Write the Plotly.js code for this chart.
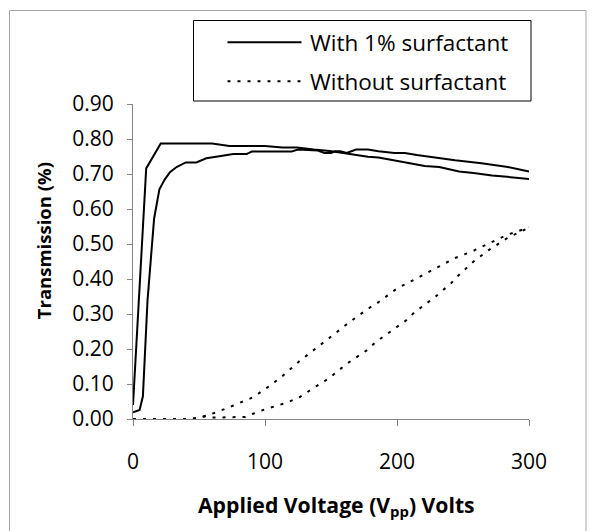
<!DOCTYPE html>
<html>
<head>
<meta charset="utf-8">
<script src="https://cdn.plot.ly/plotly-3.0.1.min.js"></script>
<style>html,body{margin:0;padding:0;background:#fff;}#chart{width:595px;height:531px;}</style>
</head>
<body>
<div id="chart"></div>
<script>
// With 1% surfactant - sweep A (higher at low voltage)
var surfA_x = [0, 10, 21, 40, 60, 73, 100, 113, 124, 137, 149, 163, 178, 186, 198, 209, 221, 232, 247, 258, 272, 300];
var surfA_y = [0.040, 0.716, 0.787, 0.787, 0.787, 0.780, 0.780, 0.776, 0.776, 0.770, 0.766, 0.758, 0.749, 0.747, 0.739, 0.731, 0.723, 0.720, 0.707, 0.703, 0.696, 0.686];
// With 1% surfactant - sweep B
var surfB_x = [0, 5, 7.5, 11, 16, 20, 24, 28, 33, 40, 48, 55.5, 63, 76, 86, 90, 100, 120, 125, 140, 145, 150, 153, 157, 162, 169, 178, 186, 198, 206, 215, 229, 244, 264, 284, 300];
var surfB_y = [0.019, 0.026, 0.065, 0.339, 0.573, 0.656, 0.684, 0.705, 0.720, 0.733, 0.733, 0.745, 0.749, 0.757, 0.757, 0.764, 0.764, 0.764, 0.770, 0.767, 0.760, 0.760, 0.765, 0.765, 0.760, 0.770, 0.770, 0.765, 0.760, 0.760, 0.754, 0.746, 0.739, 0.731, 0.720, 0.707];
// Without surfactant - sweep C (rises earlier)
var noneC_x = [0, 40, 50, 56, 63, 73, 91, 104, 113, 126, 141, 155, 163, 178, 185, 200, 215, 229, 244, 257, 270, 284, 300];
var noneC_y = [0, 0, 0.003, 0.010, 0.019, 0.034, 0.062, 0.096, 0.122, 0.165, 0.208, 0.250, 0.274, 0.315, 0.331, 0.373, 0.402, 0.431, 0.460, 0.479, 0.503, 0.527, 0.547];
// Without surfactant - sweep D
var noneD_x = [0, 45, 50, 55, 60, 75, 85, 91, 101, 116, 126, 139, 148, 162, 177, 184, 192, 207, 213, 222, 229, 241, 247, 258, 270, 284, 300];
var noneD_y = [0, 0, 0.005, 0.008, 0.004, 0.006, 0.006, 0.015, 0.029, 0.046, 0.062, 0.094, 0.115, 0.158, 0.196, 0.220, 0.241, 0.282, 0.304, 0.328, 0.349, 0.388, 0.412, 0.450, 0.484, 0.518, 0.547];

var xTicks = [0, 100, 200, 300];
var yTicks = [0, 0.1, 0.2, 0.3, 0.4, 0.5, 0.6, 0.7, 0.8, 0.9];
var legendLabels = ['With 1% surfactant', 'Without surfactant'];
var xTitle = 'Applied Voltage (V<sub>pp</sub>) Volts';
var yTitle = 'Transmission (%)';

var solid = {color: '#000', width: 2};
var dotted = {color: '#000', width: 2, dash: '3px,7px'};

var traces = [
  {x: surfA_x, y: surfA_y, mode: 'lines', line: solid, name: legendLabels[0], showlegend: false},
  {x: surfB_x, y: surfB_y, mode: 'lines', line: solid, name: legendLabels[0], showlegend: false},
  {x: noneC_x, y: noneC_y, mode: 'lines', line: dotted, name: legendLabels[1], showlegend: false},
  {x: noneD_x, y: noneD_y, mode: 'lines', line: dotted, name: legendLabels[1], showlegend: false}
];

// layout geometry (pixels)
var W = 595, H = 531, L = 133, R = 66, T = 104, B = 112;
var pw = W - L - R, ph = H - T - B;
function px(x) { return (x - L) / pw; }
function py(y) { return (H - B - y) / ph; }

var layout = {
  width: W, height: H,
  margin: {l: L, r: R, t: T, b: B, pad: 0},
  paper_bgcolor: '#fff', plot_bgcolor: '#fff',
  font: {family: '"Open Sans", Lato, sans-serif', size: 21, color: '#000'},
  showlegend: false,
  xaxis: {
    range: [0, 300], tickvals: xTicks, ticktext: xTicks.map(String),
    showline: true, linecolor: '#868686', linewidth: 1,
    ticks: 'outside', ticklen: 6, tickcolor: '#868686', tickwidth: 1,
    showgrid: false, zeroline: false, ticklabelstandoff: 18,
    tickfont: {size: 21}
  },
  yaxis: {
    range: [0, 0.9], tickvals: yTicks, ticktext: yTicks.map(function (v) { return v.toFixed(2); }),
    showline: true, linecolor: '#868686', linewidth: 1,
    ticks: 'outside', ticklen: 5, tickcolor: '#868686', tickwidth: 1,
    showgrid: false, zeroline: false, ticklabelstandoff: 9,
    tickfont: {size: 21}
  },
  shapes: [
    {type: 'rect', xref: 'paper', yref: 'paper', x0: px(9.5), x1: px(586), y0: py(545), y1: py(10.5),
     line: {color: '#a6a6a6', width: 1}, fillcolor: 'rgba(0,0,0,0)'},
    {type: 'rect', xref: 'paper', yref: 'paper', x0: px(193.5), x1: px(531), y0: py(101), y1: py(20.5),
     line: {color: '#000', width: 1}, fillcolor: 'rgba(0,0,0,0)'},
    {type: 'line', xref: 'paper', yref: 'paper', x0: px(227.5), x1: px(301.5), y0: py(42.3), y1: py(42.3),
     line: solid},
    {type: 'line', xref: 'paper', yref: 'paper', x0: px(227.5), x1: px(301.5), y0: py(81.3), y1: py(81.3),
     line: dotted}
  ],
  annotations: [
    {xref: 'paper', yref: 'paper', x: px(308), y: py(42.3), xanchor: 'left', yanchor: 'middle',
     text: legendLabels[0], showarrow: false, font: {size: 22.5}},
    {xref: 'paper', yref: 'paper', x: px(308), y: py(81.3), xanchor: 'left', yanchor: 'middle',
     text: legendLabels[1], showarrow: false, font: {size: 22.5}},
    {xref: 'paper', yref: 'paper', x: px(43.7), y: py(240.5), xanchor: 'center', yanchor: 'middle',
     text: '<b>' + yTitle + '</b>', textangle: -90, showarrow: false, font: {size: 18.5}},
    {xref: 'paper', yref: 'paper', x: px(336), y: py(505), xanchor: 'center', yanchor: 'middle',
     text: '<b>' + xTitle + '</b>', showarrow: false, font: {size: 21.2}}
  ]
};

Plotly.newPlot('chart', traces, layout, {staticPlot: true, displayModeBar: false});
</script>
</body>
</html>
